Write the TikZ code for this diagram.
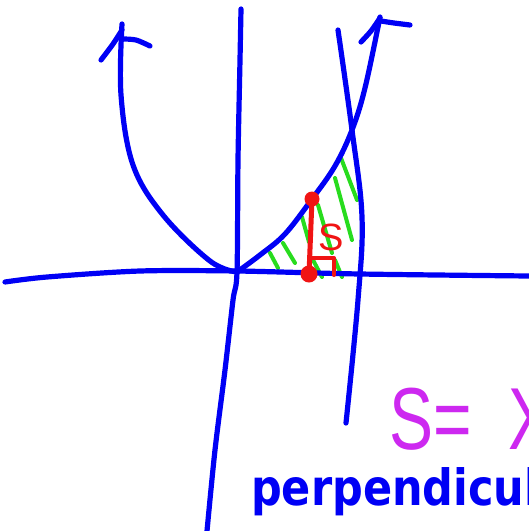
\documentclass[tikz,border=0pt]{standalone}
\usepackage{fontspec}
\setmainfont{Liberation Sans}
\newfontfamily\boldfam{DejaVu Sans}
\definecolor{penblue}{RGB}{0,0,245}
\definecolor{penred}{RGB}{240,20,20}
\definecolor{pengreen}{RGB}{40,220,30}
\definecolor{penmag}{RGB}{205,40,240}
\begin{document}
\begin{tikzpicture}[x=1pt,y=-1pt,
  blueink/.style={draw=penblue,line width=5.2pt,line cap=round,line join=round},
  greenink/.style={draw=pengreen,line width=4pt,line cap=round},
  redink/.style={draw=penred,line width=5pt,line cap=round,line join=round},
  dot/.style={circle,fill=penred,inner sep=0pt,minimum size=15pt}]
\fill[white] (0,0) rectangle (529,531);
\useasboundingbox (0,0) rectangle (529,531);
\clip (0,0) rectangle (529,531);
% green hatching
\draw[greenink] (270,253) -- (278,268);
\draw[greenink] (283,243) -- (295,263);
\draw[greenink] (302,217) -- (309,242);
\draw[greenink] (313,260) -- (322,277);
\draw[greenink] (318,205) -- (332,253);
\draw[greenink] (335,260) -- (342,277);
\draw[greenink] (335,178) -- (352,240);
\draw[greenink] (341,158) -- (357,200);
% axes
\draw[blueink] plot[smooth,tension=0.5] coordinates {(5,282) (47,277) (140,271) (237,271) (360,274) (529,276)};
\draw[blueink] plot[smooth,tension=0.5] coordinates {(241,9) (240,60) (238,160) (237,272) (233,300) (225,370) (215,450) (207,531)};
% parabola
\draw[blueink] plot[smooth,tension=0.6] coordinates {(122,24) (121,95) (133,165) (163,215) (210,261) (237,272)};
\draw[blueink] plot[smooth,tension=0.6] coordinates {(237,272) (260,255) (285,234) (312,199) (335,166) (352,130) (365,88) (380,17)};
% arrowheads
\draw[blueink] plot[smooth] coordinates {(101,60) (113,44) (122,30)};
\draw[blueink] plot[smooth] coordinates {(123,39) (136,40) (150,46)};
\draw[blueink] plot[smooth] coordinates {(361,42) (371,31) (380,18)};
\draw[blueink] plot[smooth] coordinates {(381,21) (394,23) (410,25)};
% second curve
\draw[blueink] plot[smooth,tension=0.6] coordinates {(338,30) (352,130) (362,217) (358,300) (346,423)};
% red segment
\node[dot] (top) at (312,199) {};
\node[dot,minimum size=17pt] (bot) at (309,274) {};
\draw[redink] (top.center) -- (bot.center);
\coordinate (ra1) at (311,258);
\coordinate (ra2) at (334,258);
\coordinate (ra3) at (334,275);
\draw[redink,line width=4pt] (ra1) -- (ra2) -- (ra3);
\node[text=penred,font=\fontsize{38}{38}\selectfont,inner sep=0pt] (slabel) at (331,237) {S};
% texts
\node[text=penmag,anchor=base west,inner sep=0pt,xscale=0.75,font=\fontsize{88}{88}\selectfont] (formula) at (389,449) {S=\hspace{0.55em}X};
\node[text=penblue,anchor=base west,inner sep=0pt,xscale=0.86,font=\boldfam\bfseries\fontsize{50}{50}\selectfont] (perp) at (251,505) {perpendicul};
\end{tikzpicture}
\end{document}
